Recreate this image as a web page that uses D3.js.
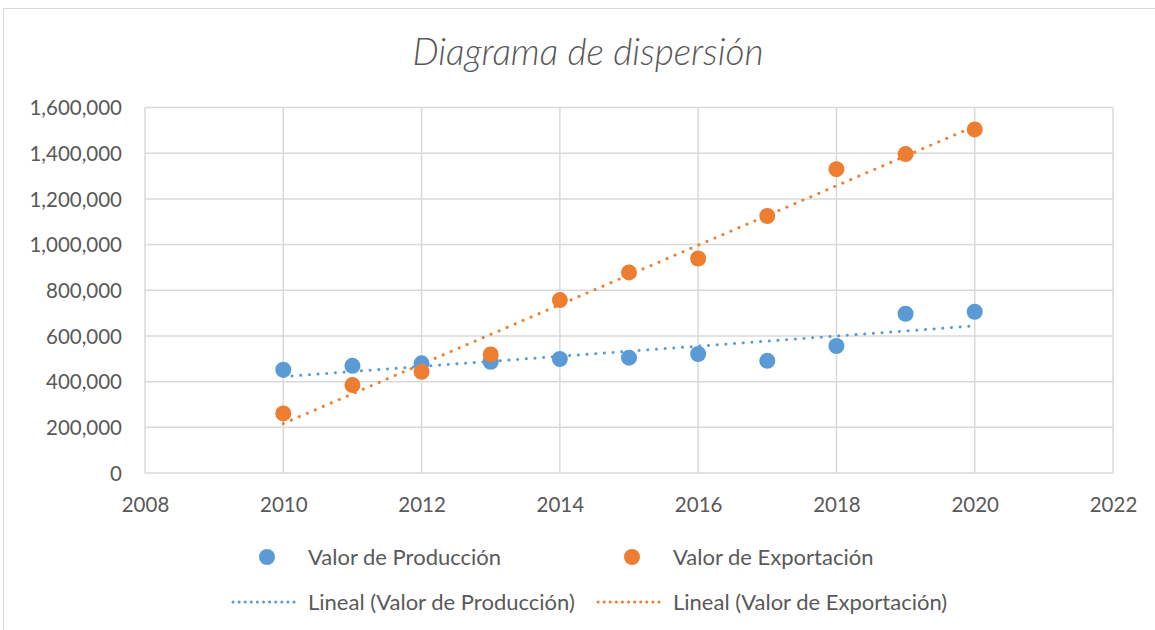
<!DOCTYPE html>
<html>
<head>
<meta charset="utf-8">
<script src="https://cdn.jsdelivr.net/npm/d3@7"></script>
<style>
  body { margin: 0; background: #fff; }
  svg text { font-family: Lato, "Open Sans", sans-serif; fill: #595959; }
</style>
</head>
<body>
<div id="chart"></div>
<script>
var years = [2010, 2011, 2012, 2013, 2014, 2015, 2016, 2017, 2018, 2019, 2020];
var produccion = [452000, 469000, 480000, 487000, 499000, 505000, 521000, 491000, 556000, 697000, 706000];
var exportacion = [261000, 385000, 443000, 519000, 757000, 878000, 939000, 1125000, 1330000, 1396000, 1504000];
var xTicks = [2008, 2010, 2012, 2014, 2016, 2018, 2020, 2022];
var yTicks = [0, 200000, 400000, 600000, 800000, 1000000, 1200000, 1400000, 1600000];

var width = 1155,
  height = 630;

var svg = d3.select('#chart')
  .append('svg')
  .attr('width', width)
  .attr('height', height);

// chart border
svg.append('rect')
  .attr('x', 3.5)
  .attr('y', 8.5)
  .attr('width', 1170)
  .attr('height', 650)
  .attr('fill', 'none')
  .attr('stroke', '#d9d9d9');

svg.append('text')
  .attr('x', 588)
  .attr('y', 65)
  .attr('text-anchor', 'middle')
  .style('font-size', '37px')
  .style('font-style', 'italic')
  .style('font-weight', 300)
  .text('Diagrama de dispersión');

var x = d3.scaleLinear().domain([2008, 2022]).range([145, 1113]);
var y = d3.scaleLinear().domain([0, 1600000]).range([473, 107.5]);

var grid = svg.append('g');
grid.selectAll('.hg')
  .data(yTicks)
  .enter()
  .append('line')
  .attr('x1', x(2008))
  .attr('x2', x(2022))
  .attr('y1', function(d) { return y(d); })
  .attr('y2', function(d) { return y(d); })
  .attr('stroke', '#d9d9d9')
  .attr('stroke-width', 1.5);
grid.selectAll('.vg')
  .data(xTicks)
  .enter()
  .append('line')
  .attr('y1', y(0))
  .attr('y2', y(1600000))
  .attr('x1', function(d) { return x(d); })
  .attr('x2', function(d) { return x(d); })
  .attr('stroke', '#d9d9d9')
  .attr('stroke-width', 1.5);

var fmt = d3.format(',');
var yAxis = svg.append('g')
  .attr('transform', 'translate(' + x(2008) + ',0)')
  .call(d3.axisLeft(y).tickValues(yTicks).tickFormat(fmt).tickSize(0).tickPadding(23));
yAxis.select('.domain').remove();
yAxis.selectAll('text').style('font-size', '20.5px').attr('dy', '0.35em');

var xAxis = svg.append('g')
  .attr('transform', 'translate(0,' + y(0) + ')')
  .call(d3.axisBottom(x).tickValues(xTicks).tickFormat(d3.format('d')).tickSize(0).tickPadding(24));
xAxis.select('.domain').remove();
xAxis.selectAll('text').style('font-size', '20.5px');

function fit(xs, ys) {
  var mx = d3.mean(xs), my = d3.mean(ys);
  var num = d3.sum(xs, function(v, i) { return (v - mx) * (ys[i] - my); });
  var den = d3.sum(xs, function(v) { return (v - mx) * (v - mx); });
  var b = num / den;
  return { b: b, a: my - b * mx };
}

var series = [
  { name: 'Valor de Producción', values: produccion, color: '#5b9bd5' },
  { name: 'Valor de Exportación', values: exportacion, color: '#ed7d31' }
];

var line = d3.line()
  .x(function(d) { return x(d[0]); })
  .y(function(d) { return y(d[1]); });

series.forEach(function(s) {
  var f = fit(years, s.values);
  var x0 = d3.min(years), x1 = d3.max(years);
  svg.append('path')
    .datum([[x0, f.a + f.b * x0], [x1, f.a + f.b * x1]])
    .attr('d', line)
    .attr('fill', 'none')
    .attr('stroke', s.color)
    .attr('stroke-width', 3)
    .attr('stroke-linecap', 'round')
    .attr('stroke-dasharray', '0.1 8.6');
});

series.forEach(function(s) {
  svg.append('g')
    .selectAll('circle')
    .data(s.values)
    .enter()
    .append('circle')
    .attr('cx', function(d, i) { return x(years[i]); })
    .attr('cy', function(d) { return y(d); })
    .attr('r', 8)
    .attr('fill', s.color);
});

// legend
var legend = svg.append('g');
var lx = [267, 632];
series.forEach(function(s, i) {
  legend.append('circle')
    .attr('cx', lx[i])
    .attr('cy', 557)
    .attr('r', 8)
    .attr('fill', s.color);
  legend.append('text')
    .attr('x', lx[i] + 41)
    .attr('y', 557)
    .attr('dy', '0.35em')
    .style('font-size', '22px')
    .text(s.name);
  legend.append('line')
    .attr('x1', lx[i] - 34)
    .attr('x2', lx[i] + 30)
    .attr('y1', 602)
    .attr('y2', 602)
    .attr('stroke', s.color)
    .attr('stroke-width', 3)
    .attr('stroke-linecap', 'round')
    .attr('stroke-dasharray', '0.1 6');
  legend.append('text')
    .attr('x', lx[i] + 41)
    .attr('y', 602)
    .attr('dy', '0.35em')
    .style('font-size', '22px')
    .text('Lineal (' + s.name + ')');
});
</script>
</body>
</html>
